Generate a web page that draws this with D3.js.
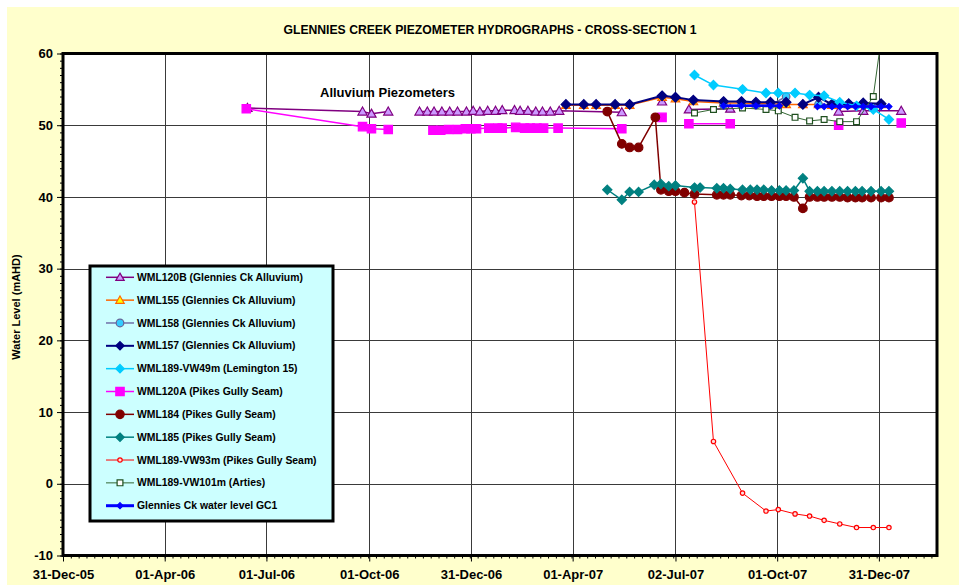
<!DOCTYPE html>
<html><head><meta charset="utf-8">
<script src="https://cdn.jsdelivr.net/npm/d3@7"></script>
<style>body{margin:0;background:#fff}svg{display:block}</style>
</head><body>
<svg id="chart" width="959" height="585"></svg>
<script>
// ---------- DATA ----------
const xTickDates = ["2005-12-31","2006-04-01","2006-07-01","2006-10-01","2006-12-31","2007-04-01","2007-07-02","2007-10-01","2007-12-31"];
const xTickLabels = ["31-Dec-05","01-Apr-06","01-Jul-06","01-Oct-06","31-Dec-06","01-Apr-07","02-Jul-07","01-Oct-07","31-Dec-07"];
const yTickValues = [-10,0,10,20,30,40,50,60];

const seriesNames = [
  "WML120B (Glennies Ck Alluvium)",
  "WML155 (Glennies Ck Alluvium)",
  "WML158 (Glennies Ck Alluvium)",
  "WML157 (Glennies Ck Alluvium)",
  "WML189-VW49m (Lemington 15)",
  "WML120A (Pikes Gully Seam)",
  "WML184 (Pikes Gully Seam)",
  "WML185 (Pikes Gully Seam)",
  "WML189-VW93m (Pikes Gully Seam)",
  "WML189-VW101m (Arties)",
  "Glennies Ck water level GC1"
];

// [date, value]; [null,null] marks a break in the line
const wml120B = [
  ["2006-06-14",52.4],["2006-09-25",51.9],["2006-10-03",51.6],["2006-10-18",51.9],[null,null],
  ["2006-11-15",51.9],["2006-11-22",51.9],["2006-11-28",51.9],["2006-12-05",51.9],["2006-12-12",51.9],
  ["2006-12-19",51.9],["2006-12-27",51.9],["2007-01-02",52.0],["2007-01-08",51.9],["2007-01-15",52.0],
  ["2007-01-22",52.0],["2007-01-28",52.1],["2007-02-08",52.1],["2007-02-13",52.0],["2007-02-20",52.0],
  ["2007-02-27",51.9],["2007-03-05",51.9],["2007-03-12",51.9],["2007-03-20",52.0],["2007-05-15",51.8],[null,null],
  ["2007-06-20",53.3],[null,null],
  ["2007-07-14",52.2],["2007-08-20",52.3],[null,null],
  ["2007-11-25",51.9],["2007-12-17",52.0],["2008-01-20",52.0]
];
const wml155 = [
  ["2007-03-26",52.8],["2007-04-11",52.8],["2007-04-22",52.8],["2007-05-09",52.8],["2007-05-22",52.8],
  ["2007-06-20",53.9],["2007-07-02",53.7],["2007-07-18",53.3],["2007-08-14",53.1],["2007-08-30",53.1],
  ["2007-09-12",53.0],["2007-09-25",53.0],["2007-10-09",52.9],["2007-10-24",52.9],["2007-11-07",52.9],
  ["2007-11-19",52.8],["2007-12-04",52.9],["2007-12-17",52.9],["2008-01-02",52.9]
];
const wml158 = [
  ["2007-08-14",52.8],["2007-08-30",52.8],["2007-09-12",52.8],["2007-09-25",52.8],["2007-10-09",54.0],[null,null],
  ["2007-11-07",52.9],["2007-11-19",52.9],["2007-12-04",52.9],["2007-12-17",52.9],["2008-01-02",52.9]
];
const wml157 = [
  ["2007-03-26",52.9],["2007-04-11",52.9],["2007-04-22",52.9],["2007-05-09",52.9],["2007-05-22",52.9],
  ["2007-06-20",54.1],["2007-07-02",53.9],["2007-07-18",53.5],["2007-08-14",53.3],["2007-08-30",53.3],
  ["2007-09-12",53.2],["2007-09-25",53.2],["2007-10-09",53.2],[null,null],
  ["2007-10-24",52.9],["2007-11-07",53.9],["2007-11-19",52.9],["2007-12-04",53.0],["2007-12-17",53.1],["2008-01-02",53.0]
];
const vwDates = ["2007-07-19","2007-08-05","2007-08-31","2007-09-21","2007-10-02","2007-10-17","2007-10-30","2007-11-12","2007-11-26","2007-12-11","2007-12-26","2008-01-09"];
const vw49mValues  = [57.0,55.6,55.0,54.5,54.5,54.5,54.2,54.1,53.2,52.7,52.2,50.8];
const vw93mValues  = [39.3,5.9,-1.3,-3.8,-3.6,-4.2,-4.5,-5.1,-5.6,-6.1,-6.1,-6.1];
const vw101mValues = [51.7,52.2,52.4,52.2,52.0,51.1,50.6,50.8,50.5,50.5,54.0,70.0];
const wml120A = [
  ["2006-06-13",52.3],["2006-09-25",49.8],["2006-10-03",49.5],["2006-10-18",49.4],[null,null],
  ["2006-11-27",49.3],["2006-12-04",49.3],["2006-12-11",49.4],["2006-12-19",49.4],["2006-12-26",49.5],
  ["2006-12-31",49.5],["2007-01-05",49.5],["2007-01-16",49.6],["2007-01-24",49.6],["2007-01-28",49.6],
  ["2007-02-09",49.7],["2007-02-17",49.6],["2007-02-22",49.6],["2007-02-28",49.6],["2007-03-06",49.6],
  ["2007-03-19",49.6],["2007-05-15",49.5],[null,null],
  ["2007-06-20",51.1],[null,null],
  ["2007-07-14",50.2],["2007-08-20",50.2],[null,null],
  ["2007-11-25",50.0],[null,null],["2008-01-20",50.3]
];
const wml184 = [
  ["2007-05-02",51.9],["2007-05-15",47.4],["2007-05-22",46.9],["2007-05-30",46.9],["2007-06-14",51.1],
  ["2007-06-19",41.0],["2007-06-26",40.8],["2007-07-02",40.8],["2007-07-10",40.6],["2007-07-19",40.4],
  ["2007-08-08",40.3],["2007-08-14",40.3],["2007-08-20",40.3],["2007-08-30",40.2],["2007-09-06",40.2],
  ["2007-09-13",40.1],["2007-09-19",40.1],["2007-09-26",40.1],["2007-10-03",40.1],["2007-10-09",40.1],
  ["2007-10-16",40.0],["2007-10-24",38.4],["2007-10-30",40.0],["2007-11-06",40.0],["2007-11-12",40.0],
  ["2007-11-19",40.0],["2007-11-26",40.0],["2007-12-03",39.9],["2007-12-10",39.9],["2007-12-16",39.9],
  ["2007-12-24",39.9],["2008-01-02",39.9],["2008-01-09",39.9]
];
const wml185 = [
  ["2007-05-02",41.0],["2007-05-15",39.6],["2007-05-22",40.7],["2007-05-30",40.7],["2007-06-13",41.7],
  ["2007-06-19",41.8],["2007-06-26",41.5],["2007-07-02",41.6],["2007-07-19",41.3],["2007-07-24",41.3],
  ["2007-08-08",41.2],["2007-08-14",41.2],["2007-08-20",41.1],["2007-08-31",41.0],["2007-09-07",41.0],
  ["2007-09-13",41.0],["2007-09-19",41.0],["2007-09-26",40.9],["2007-10-03",40.9],["2007-10-09",40.9],
  ["2007-10-16",40.9],["2007-10-24",42.6],["2007-10-30",40.8],["2007-11-06",40.8],["2007-11-12",40.8],
  ["2007-11-19",40.8],["2007-11-26",40.8],["2007-12-03",40.8],["2007-12-10",40.8],["2007-12-16",40.8],
  ["2007-12-24",40.8],["2008-01-02",40.8],["2008-01-09",40.8]
];
const gc1 = [
  ["2007-08-14",52.7],["2007-08-30",52.7],["2007-09-12",52.7],["2007-09-25",52.7],["2007-10-03",52.7],[null,null],
  ["2007-11-06",52.6],["2007-11-12",52.6],["2007-11-19",52.6],["2007-11-26",52.6],["2007-12-03",52.6],
  ["2007-12-10",52.6],["2007-12-17",52.6],["2007-12-24",52.6],["2008-01-02",52.6],["2008-01-09",52.6]
];
const zip = (ds, vs) => ds.map((d, i) => [d, vs[i]]);
const seriesData = [wml120B, wml155, wml158, wml157, zip(vwDates, vw49mValues), wml120A, wml184, wml185,
                    zip(vwDates, vw93mValues), zip(vwDates, vw101mValues), gc1];

// ---------- STYLES ----------
const styles = [
  {line:"#800080", lw:1.5, shape:"triangle", r:4.6, stroke:"#800080", fill:"#CC99FF"},
  {line:"#FF6600", lw:1.5, shape:"triangle", r:4.3, stroke:"#FF6600", fill:"#FFFF00"},
  {line:"#7070A8", lw:1.5, shape:"circle",   r:3.8, stroke:"#666699", fill:"#33CCFF"},
  {line:"#000080", lw:2,   shape:"diamond",  r:4.8, stroke:"#000080", fill:"#000080"},
  {line:"#00CCFF", lw:1.5, shape:"diamond",  r:4.6, stroke:"#00CCFF", fill:"#00CCFF"},
  {line:"#FF00FF", lw:1.5, shape:"square",   r:4.2, stroke:"#FF00FF", fill:"#FF00FF"},
  {line:"#800000", lw:1.5, shape:"circle",   r:4.3, stroke:"#800000", fill:"#800000"},
  {line:"#008080", lw:1.5, shape:"diamond",  r:4.6, stroke:"#008080", fill:"#008080"},
  {line:"#FF0000", lw:1,   shape:"circle",   r:2.2, stroke:"#FF0000", fill:"#FFDDDD"},
  {line:"#336633", lw:1,   shape:"square",   r:2.9, stroke:"#1F4F1F", fill:"#FFFFFF"},
  {line:"#0000FF", lw:2.5, shape:"diamond",  r:3,   stroke:"#0000FF", fill:"#0000FF"}
];

const svg = d3.select("#chart");
const font = "'Liberation Sans', Arial, sans-serif";
const W = 959, H = 585;
const m = {left:63, right:937, top:53.5, bottom:555.5};
const parse = d3.utcParse("%Y-%m-%d");

svg.append("rect").attr("x",7).attr("y",7).attr("width",W-7).attr("height",H-7).attr("fill","#FFFFCC");

const x = d3.scaleUtc().domain([parse("2005-12-31"), parse("2008-02-21")]).range([m.left, m.right]);
const y = d3.scaleLinear().domain([-10, 60]).range([m.bottom, m.top]);

// plot area
svg.append("rect").attr("x",m.left).attr("y",m.top).attr("width",m.right-m.left).attr("height",m.bottom-m.top).attr("fill","#fff");

// gridlines
const grid = svg.append("g").attr("stroke","#3a3a3a").attr("stroke-width",1);
yTickValues.filter(v => v > -10 && v < 60).forEach(v => {
  grid.append("line").attr("x1",m.left).attr("x2",m.right).attr("y1",Math.round(y(v))+0.5).attr("y2",Math.round(y(v))+0.5);
});
xTickDates.slice(1).forEach(d => {
  const xx = Math.round(x(parse(d))) + 0.5;
  grid.append("line").attr("x1",xx).attr("x2",xx).attr("y1",m.top).attr("y2",m.bottom);
});

// axes
const yAxis = d3.axisLeft(y).tickValues(yTickValues).tickSize(6).tickFormat(d => String(d));
const gy = svg.append("g").attr("transform",`translate(${m.left},0)`).call(yAxis);
gy.select(".domain").remove();
gy.selectAll("text").attr("font-family",font).attr("font-weight","bold").attr("font-size",13).attr("fill","#000").attr("dx",-1);
const yMinor = d3.axisLeft(y).tickValues(d3.range(-10, 61, 1)).tickSize(3).tickFormat("");
svg.append("g").attr("transform",`translate(${m.left},0)`).call(yMinor).select(".domain").remove();

const xAxis = d3.axisBottom(x).tickValues(xTickDates.map(parse)).tickSize(6).tickFormat((d,i) => xTickLabels[i]);
const gx = svg.append("g").attr("transform",`translate(0,${m.bottom})`).call(xAxis);
gx.select(".domain").remove();
gx.selectAll("text").attr("font-family",font).attr("font-weight","bold").attr("font-size",13).attr("fill","#000").attr("dy",14);
const minorDates = d3.range(0, 790, 7).map(k => d3.utcDay.offset(parse("2005-12-31"), k)).filter(d => d <= x.domain()[1]);
const xMinor = d3.axisBottom(x).tickValues(minorDates).tickSize(3).tickFormat("");
svg.append("g").attr("transform",`translate(0,${m.bottom})`).call(xMinor).select(".domain").remove();

// clip
svg.append("clipPath").attr("id","clip").append("rect").attr("x",m.left).attr("y",m.top).attr("width",m.right-m.left).attr("height",m.bottom-m.top);

function marker(g, shape, r, cx, cy) {
  if (shape === "circle") return g.append("circle").attr("cx",cx).attr("cy",cy).attr("r",r);
  let p;
  if (shape === "triangle") p = `M${cx},${cy-r}L${cx+r},${cy+r*0.75}L${cx-r},${cy+r*0.75}Z`;
  else if (shape === "diamond") p = `M${cx},${cy-r}L${cx+r},${cy}L${cx},${cy+r}L${cx-r},${cy}Z`;
  else p = `M${cx-r},${cy-r}H${cx+r}V${cy+r}H${cx-r}Z`;
  return g.append("path").attr("d",p);
}

const plot = svg.append("g").attr("clip-path","url(#clip)");
const line = d3.line().defined(d => d.v != null).x(d => x(d.d)).y(d => y(d.v));
seriesData.forEach((raw, i) => {
  const s = styles[i];
  const pts = raw.map(p => ({d: p[0] ? parse(p[0]) : null, v: p[1]}));
  const g = plot.append("g");
  g.append("path").datum(pts).attr("d",line).attr("fill","none").attr("stroke",s.line).attr("stroke-width",s.lw).attr("stroke-linejoin","round");
  const mg = g.append("g").attr("fill",s.fill).attr("stroke",s.stroke).attr("stroke-width",1.2);
  pts.filter(p => p.v != null).forEach(p => marker(mg, s.shape, s.r, x(p.d), y(p.v)));
});

// plot frame
svg.append("rect").attr("x",m.left).attr("y",m.top).attr("width",m.right-m.left).attr("height",m.bottom-m.top)
  .attr("fill","none").attr("stroke","#000").attr("stroke-width",3);

// title
svg.append("text").attr("x",490).attr("y",34).attr("text-anchor","middle").attr("font-family",font)
  .attr("font-weight","bold").attr("font-size",12.2).text("GLENNIES CREEK PIEZOMETER HYDROGRAPHS - CROSS-SECTION 1");
// y label
svg.append("text").attr("transform","translate(20,307) rotate(-90)").attr("text-anchor","middle").attr("font-family",font)
  .attr("font-weight","bold").attr("font-size",11).text("Water Level (mAHD)");
// annotation
svg.append("text").attr("x",320).attr("y",97).attr("font-family",font).attr("font-weight","bold").attr("font-size",13)
  .text("Alluvium Piezometers");

// legend
const lg = svg.append("g");
lg.append("rect").attr("x",90).attr("y",266).attr("width",243).attr("height",255).attr("fill","#CCFFFF").attr("stroke","#000").attr("stroke-width",3);
seriesNames.forEach((name, i) => {
  const s = styles[i];
  const yy = 277.3 + i * 22.84;
  lg.append("line").attr("x1",106).attr("x2",134).attr("y1",yy).attr("y2",yy).attr("stroke",s.line).attr("stroke-width",i===10?3:s.lw);
  const mg = lg.append("g").attr("fill",s.fill).attr("stroke",s.stroke).attr("stroke-width",1.2);
  marker(mg, s.shape, Math.min(s.r, 4.2), 120, yy);
  lg.append("text").attr("x",137).attr("y",yy+3.6).attr("font-family",font).attr("font-weight","bold").attr("font-size",10.4).text(name);
});
</script>
</body></html>
